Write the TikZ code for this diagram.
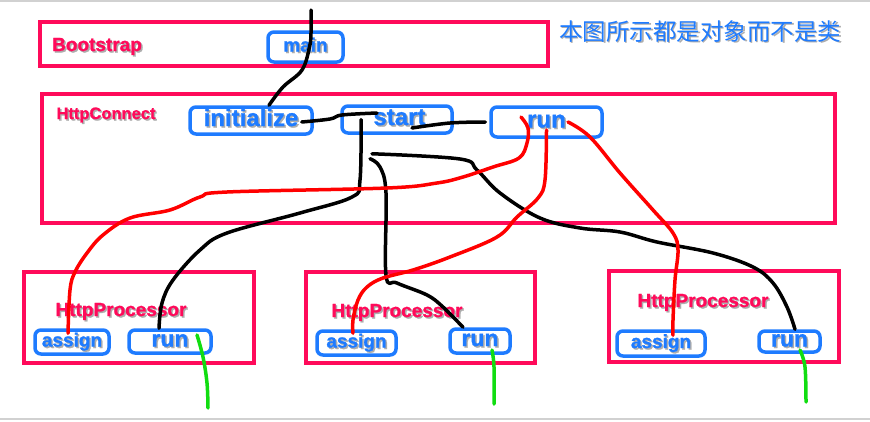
\documentclass[tikz,border=0pt]{standalone}
\usepackage{fontspec}
\setmainfont{Liberation Sans}[BoldFeatures={FakeBold=1.2}]
\newfontfamily\cjkfont{Noto Sans CJK SC}
\usetikzlibrary{positioning}
\definecolor{objpink}{HTML}{FF0A5A}
\definecolor{methodblue}{HTML}{1E7BFF}
\definecolor{threadgreen}{HTML}{11DD11}
\newcommand\softshadow[1]{\makebox[0pt][l]{\kern1.5pt\raisebox{-1.5pt}{\color{black!32}#1}}#1}
\tikzset{object box/.style={draw=objpink, line width=3.5pt, inner sep=0pt},
        object label/.style={text=objpink, anchor=base, inner sep=0pt,
                             font=\bfseries\fontsize{19}{22}\selectfont},
        method box/.style={draw=methodblue, line width=3.5pt, rounded corners=6pt,
                           text=methodblue, inner sep=0pt, text depth=0pt,
                           font=\bfseries\fontsize{24}{28}\selectfont, text height=11pt},
        small method/.style={font=\bfseries\fontsize{19}{22}\selectfont, text height=9pt},
        call line/.style={draw=black, line width=3.5pt, line cap=round, line join=round},
        assign line/.style={draw=red, line width=3.5pt, line cap=round, line join=round},
        thread line/.style={draw=threadgreen, line width=3.5pt, line cap=round, line join=round},
        }

\begin{document}
\begin{tikzpicture}[x=1pt,y=-1pt]
    \useasboundingbox (0,0) rectangle (870,421);
    \draw[black!18, line width=2pt] (0,1) -- (870,1) (0,419) -- (870,419);

    % Bootstrap
    \node[object box, minimum width=508pt, minimum height=44pt] (boot) at (294,44) {};
    \node[object label] (bootlabel) at (97,51) {\softshadow{Bootstrap}};
    \node[method box, font=\bfseries\fontsize{19}{22}\selectfont, text height=9pt,
          minimum width=75pt, minimum height=30pt] (main) at (305.5,47) {\softshadow{main}};
    \node[text=methodblue, font=\cjkfont\fontsize{23.5}{26}\selectfont, inner sep=0pt]
        (note) at (700,32) {\softshadow{本图所示都是对象而不是类}};

    % HttpConnect
    \node[object box, minimum width=793pt, minimum height=129pt] (conn) at (438.5,158.5) {};
    \node[object label, font=\bfseries\fontsize{16.5}{20}\selectfont] (connlabel) at (106,119) {\softshadow{HttpConnect}};
    \node[method box, minimum width=122pt, minimum height=27pt] (init) at (251,120.5) {\softshadow{initialize}};
    \node[method box, minimum width=110pt, minimum height=27pt] (start) at (397,119.5) {\hspace{5pt}\softshadow{start}};
    \node[method box, minimum width=111pt, minimum height=30pt] (crun) at (546.5,122) {\softshadow{run}};

    % HttpProcessor objects
    \node[object box, minimum width=230pt, minimum height=91pt] (procA) at (139,317.5) {};
    \node[object label] (procAlabel) at (121,316) {\softshadow{HttpProcessor}};
    \node[method box, small method, minimum width=74pt, minimum height=24pt] (assignA) at (72,342) {\softshadow{assign}};
    \node[method box, font=\bfseries\fontsize{23}{26}\selectfont, text height=10pt,
          minimum width=82pt, minimum height=23pt] (runA) at (170,341.5) {\softshadow{run}};

    \node[object box, minimum width=229pt, minimum height=91pt] (procB) at (420.5,317.5) {};
    \node[object label] (procBlabel) at (397,317) {\softshadow{HttpProcessor}};
    \node[method box, small method, minimum width=79pt, minimum height=24pt] (assignB) at (356.5,343) {\softshadow{assign}};
    \node[method box, font=\bfseries\fontsize{23}{26}\selectfont, text height=10pt,
          minimum width=60pt, minimum height=24pt] (runB) at (480,341) {\softshadow{run}};

    \node[object box, minimum width=230pt, minimum height=91pt] (procC) at (724,316.5) {};
    \node[object label] (procClabel) at (703,307) {\softshadow{HttpProcessor}};
    \node[method box, small method, minimum width=88pt, minimum height=25pt] (assignC) at (661,343.5) {\softshadow{assign}};
    \node[method box, font=\bfseries\fontsize{23}{26}\selectfont, text height=10pt,
          minimum width=61pt, minimum height=21pt] (runC) at (789.5,341.5) {\softshadow{run}};

    % free ends
    \coordinate (entry) at (311,10);
    \coordinate (exitA) at (208,408);
    \coordinate (exitB) at (494,404);
    \coordinate (exitC) at (806,402);

    % calls
    \draw[call line] plot[smooth, tension=0.6] coordinates {(entry) (311,33) ([xshift=4pt]main.center)
        (302,70) (283,87) ([xshift=18pt]init.north)};
    \draw[call line] plot[smooth, tension=0.6] coordinates {([xshift=-12pt,yshift=-1.5pt]init.east)
        (330,119) (342,115) ([xshift=-20pt,yshift=6.5pt]start.center)};
    \draw[call line] plot[smooth, tension=0.6] coordinates {([xshift=15pt,yshift=-8.5pt]start.center)
        (450,123) ([xshift=-4pt]crun.west)};
    \draw[call line] plot[smooth, tension=0.6] coordinates {([xshift=-36pt]start.center)
        (360,180) (352,197) (300,213) (227,233) (200,250) (173,280) (162,303) ([xshift=-11pt]runA.north)};
    \draw[call line] plot[smooth, tension=0.6] coordinates {([xshift=-25pt,yshift=-19pt]start.south)
        (460,159) (477,170) (500,193) (540,218) (580,228) (620,232) (657,242) (713,253) (753,267)
        (773,283) (787,307) ([xshift=5.5pt]runC.north)};
    \draw[call line] plot[smooth, tension=0.6] coordinates {([xshift=-27pt,yshift=-24pt]start.south)
        (380,167) (386,193) (386,275) (397,283) (427,295) (443,307) ([xshift=-17pt]runB.north)};

    % assign
    \draw[assign line] plot[smooth, tension=0.6] coordinates {([xshift=-25.5pt,yshift=5pt]crun.center)
        (528,128) (527,143) (519,158) (493,167) (463,177) (437,183) (387,188) (227,192) (200,197)
        (170,210) (130,218) (103,235) (87,253) (75,272) (70,290) ([xshift=-4pt,yshift=-5pt]assignA.north)};
    \draw[assign line] plot[smooth, tension=0.6] coordinates {([yshift=-8pt]crun.center)
        (545,180) (538,198) (517,217) (497,237) (450,257) (413,270) (383,278) (367,287) (358,300)
        (353,320) ([xshift=-3.5pt,yshift=-4pt]assignB.north)};
    \draw[assign line] plot[smooth, tension=0.6] coordinates {([xshift=21.5pt]crun.center)
        (590,137) (620,173) (653,210) (673,233) (678,250) (675,280) (673,320) ([xshift=12pt,yshift=-6pt]assignC.north)};

    % threads
    \draw[thread line] plot[smooth, tension=0.6] coordinates {([xshift=27pt,yshift=6.5pt]runA.center)
        (203,357) (207,383) (exitA)};
    \draw[thread line] plot[smooth, tension=0.6] coordinates {([xshift=12pt,yshift=-9pt]runB.center)
        (494,367) (exitB)};
    \draw[thread line] plot[smooth, tension=0.6] coordinates {([xshift=10.5pt,yshift=-8.5pt]runC.center)
        (805,367) (exitC)};
\end{tikzpicture}
\end{document}
